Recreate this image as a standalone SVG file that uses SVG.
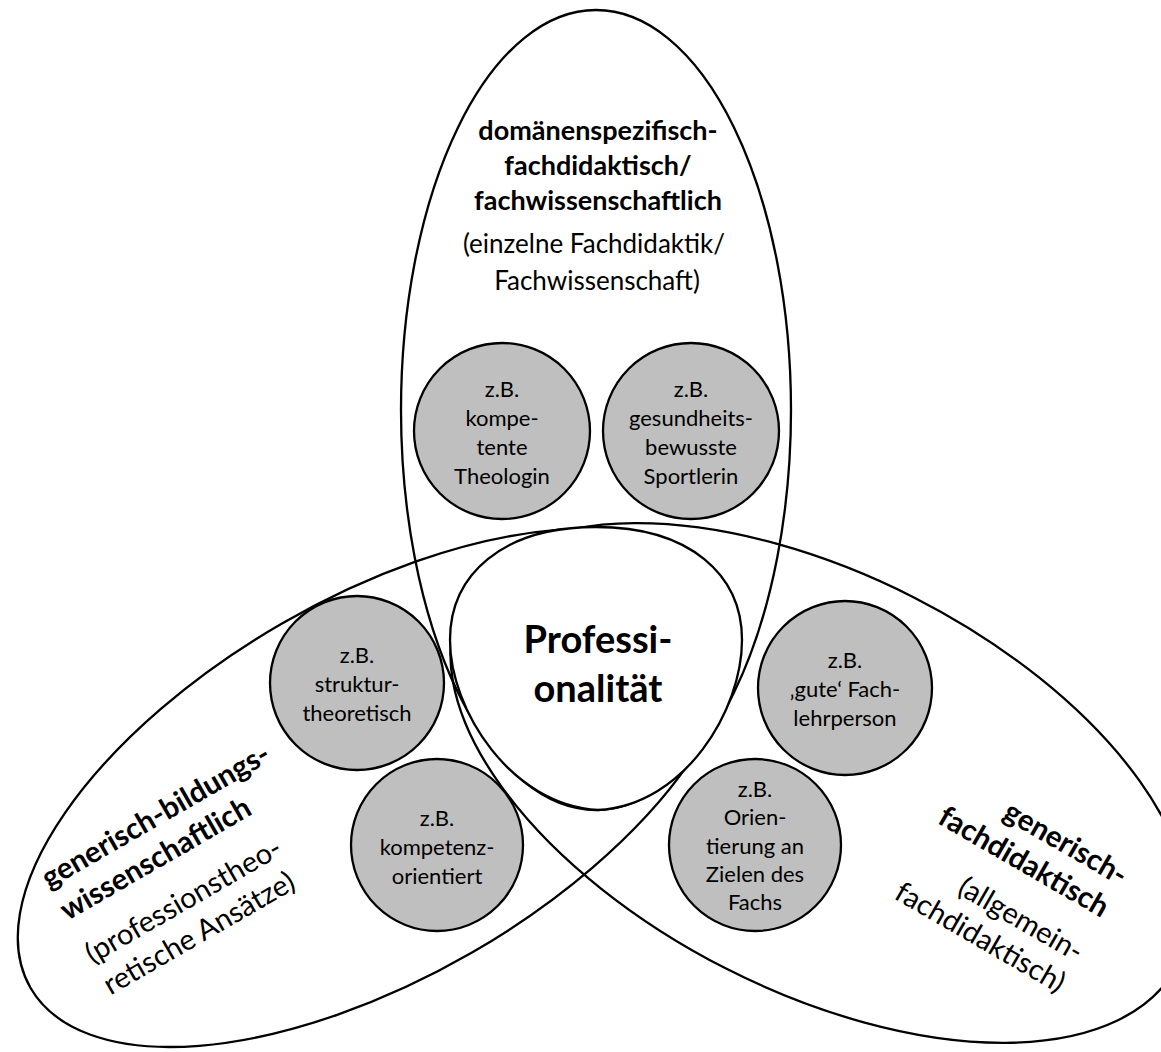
<svg xmlns="http://www.w3.org/2000/svg" width="1161" height="1052" viewBox="0 0 1161 1052">
<style>
.sh{fill:none;stroke:#000;stroke-width:2.3}
.c{fill:#BFBFBF;stroke:#000;stroke-width:2.3}
.ctr{fill:#fff;stroke:#000;stroke-width:2.3}
text{font-family:Lato,"Open Sans","Liberation Sans",sans-serif;fill:#000}
.t{font-size:22px;text-anchor:middle}
.bt{font-size:27px;font-weight:bold}
.rt{font-size:26px}
.bt2{font-size:29.5px;font-weight:bold}
.rt2{font-size:29px}
.m{text-anchor:middle}
.e{text-anchor:end}
.pc{font-size:38px;font-weight:bold;text-anchor:middle}
</style>
<rect width="1161" height="1052" fill="#fff"/>
<g id="ellipse-domain">
<ellipse class="sh" cx="596" cy="410" rx="195" ry="400"/>
<text class="bt m" x="598" y="140">domänenspezifisch-</text>
<text class="bt m" x="598" y="175">fachdidaktisch/</text>
<text class="bt m" x="598" y="210">fachwissenschaftlich</text>
<text class="rt m" x="594" y="253">(einzelne Fachdidaktik/</text>
<text class="rt m" x="597" y="290">Fachwissenschaft)</text>
</g>
<g id="ellipse-generic-edu">
<ellipse class="sh" cx="377" cy="788" rx="400" ry="190" transform="rotate(-30 377 788)"/>
<g transform="translate(49 889) rotate(-30)">
<text class="bt2" x="0" y="0">generisch-bildungs-</text>
<text class="bt2" x="0" y="37">wissenschaftlich</text>
<text class="rt2" x="0" y="87">(professionstheo-</text>
<text class="rt2" x="0" y="123">retische Ansätze)</text>
</g>
</g>
<g id="ellipse-generic-subject">
<ellipse class="sh" cx="820" cy="783" rx="401" ry="208" transform="rotate(27 820 783)"/>
<g transform="translate(1120 886) rotate(30)">
<text class="bt2 e" x="0" y="0">generisch-</text>
<text class="bt2 e" x="0" y="37">fachdidaktisch</text>
<text class="rt2 e" x="0" y="88">(allgemein-</text>
<text class="rt2 e" x="0" y="124">fachdidaktisch)</text>
</g>
</g>
<g id="circle-theologin">
<circle class="c" cx="502" cy="431" r="88"/>
<text class="t" x="502" y="397">z.B.</text>
<text class="t" x="502" y="426">kompe-</text>
<text class="t" x="502" y="455">tente</text>
<text class="t" x="502" y="484">Theologin</text>
</g>
<g id="circle-sportlerin">
<circle class="c" cx="691" cy="431" r="88"/>
<text class="t" x="691" y="397">z.B.</text>
<text class="t" x="691" y="426">gesundheits-</text>
<text class="t" x="691" y="455">bewusste</text>
<text class="t" x="691" y="484">Sportlerin</text>
</g>
<g id="circle-struktur">
<circle class="c" cx="357" cy="683" r="87"/>
<text class="t" x="357" y="663">z.B.</text>
<text class="t" x="357" y="692">struktur-</text>
<text class="t" x="357" y="721">theoretisch</text>
</g>
<g id="circle-kompetenz">
<circle class="c" cx="437" cy="845" r="86"/>
<text class="t" x="437" y="826">z.B.</text>
<text class="t" x="437" y="855">kompetenz-</text>
<text class="t" x="437" y="884">orientiert</text>
</g>
<g id="circle-fachlehrperson">
<circle class="c" cx="845" cy="688" r="87"/>
<text class="t" x="845" y="668">z.B.</text>
<text class="t" x="845" y="697">‚gute‘ Fach-</text>
<text class="t" x="845" y="726">lehrperson</text>
</g>
<g id="circle-orientierung">
<circle class="c" cx="755" cy="845" r="86"/>
<text class="t" x="755" y="797">z.B.</text>
<text class="t" x="755" y="825">Orien-</text>
<text class="t" x="755" y="854">tierung an</text>
<text class="t" x="755" y="882">Zielen des</text>
<text class="t" x="755" y="910">Fachs</text>
</g>
<g id="center-professionalitaet">
<path class="ctr" d="M596,527 C690,527 742,575 742,640 C742,710 685,805 598,810 C511,805 450,710 450,640 C450,575 502,527 596,527 Z"/>
<text class="pc" x="598" y="653">Professi-</text>
<text class="pc" x="598" y="702">onalität</text>
</g>
</svg>
